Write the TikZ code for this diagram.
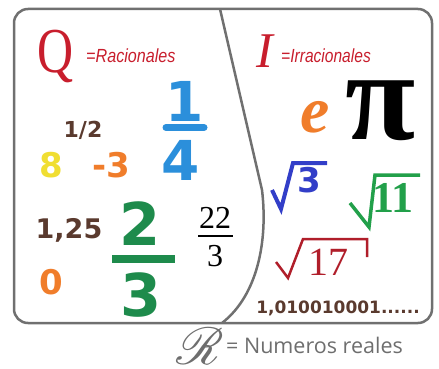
\documentclass[tikz,border=0pt]{standalone}
\usepackage{fontspec}
\setmainfont{Liberation Serif}
\newfontfamily\numfont{DejaVu Sans}
\newfontfamily\narrowfont{Liberation Sans}
\newfontfamily\handfont{Open Sans}
\usepackage{mathrsfs}
\usetikzlibrary{positioning}
\definecolor{frame}{RGB}{112,112,112}
\definecolor{setred}{RGB}{200,30,45}
\definecolor{brownnum}{RGB}{90,58,46}
\definecolor{bluenum}{RGB}{43,143,219}
\definecolor{yellownum}{RGB}{240,222,50}
\definecolor{orangenum}{RGB}{240,125,43}
\definecolor{greennum}{RGB}{30,139,76}
\definecolor{rootblue}{RGB}{50,62,200}
\definecolor{rootgreen}{RGB}{34,160,74}
\definecolor{rootred}{RGB}{176,30,42}
\definecolor{realgray}{RGB}{110,110,110}
\newcommand{\fs}[1]{\fontsize{#1}{#1}\selectfont}

\begin{document}
\begin{tikzpicture}[x=1pt, y=-1pt,
      num/.style={inner sep=0pt, font=\numfont\bfseries\fs{#1}},
      ser/.style={inner sep=0pt, font=\fs{#1}},
      setname/.style={inner sep=0pt, anchor=base west, text=setred,
                      font=\narrowfont\itshape\fs{19}},
      bar/.style={line width=#1, line cap=round},
      rootline/.style={line width=#1, line join=miter}
    ]
    \useasboundingbox (0,0) rectangle (439,369);
    % frame and divider
    \draw[frame, line width=2.5pt, rounded corners=14pt] (14,9) rectangle (432,323);
    \draw[frame, line width=2.5pt] (220,9) -- (262,190)
        .. controls (268,240) and (258,295) .. (222,323);
    % rationals
    \node[ser=64, anchor=base, text=setred] (q) at (56,73) {\scalebox{0.78}[1]{Q}};
    \node[setname] (qtxt) at (86,63) {\scalebox{0.85}[1]{=Racionales}};
    \node[num=22, text=brownnum] (half) at (83,130) {1/2};
    \node[num=55, text=bluenum] (one) at (185,101) {1};
    \draw[bluenum, bar=7pt] (166,127.5) -- (204,127.5);
    \node[num=55, text=bluenum] (four) at (181,160) {4};
    \node[num=34, text=yellownum] (eight) at (51,165) {8};
    \node[num=34, text=orangenum] (minus) at (111,165) {-3};
    \node[num=27, text=brownnum] (dec) at (69,230) {1,25};
    \node[num=34, text=orangenum] (zero) at (51,282) {0};
    \node[num=59, text=greennum] (two) at (140,224) {2};
    \draw[greennum, line width=8pt] (112,259) -- (175,259);
    \node[num=59, text=greennum] (three) at (141,295) {3};
    \node[ser=32] (tt) at (215,218) {22};
    \draw[line width=1.2pt] (198,236) -- (233,236);
    \node[ser=32] (thr) at (215,256) {3};
    % irrationals
    \node[ser=50, anchor=base west, text=setred] (i) at (256,67) {\itshape I};
    \node[setname] (itxt) at (281,63) {\scalebox{0.82}[1]{=Irracionales}};
    \node[ser=66, text=orangenum] (e) at (315,117) {\bfseries\itshape e};
    \node[ser=128, text=black, text height=56pt, text depth=2pt] (pi)
        at (381,112) {\bfseries π};
    \draw[rootblue, rootline=4pt] (272,190) -- (281,209) -- (293,163) -- (327,163);
    \node[num=34, text=rootblue] (r3) at (309,180) {3};
    \draw[rootgreen, rootline=3.5pt] (350,203) -- (369,227) -- (375,175) -- (420,175);
    \node[ser=44, text=rootgreen] (r11) at (393,198) {\bfseries 11};
    \draw[rootred, rootline=2.5pt] (276,262) -- (288,278) -- (303,239) -- (367,239) -- (367,257);
    \node[ser=40, text=rootred] (r17) at (328,262) {17};
    \node[num=17, text=brownnum] (rep) at (338,308) {1,010010001......};
    % reals
    \node[inner sep=0pt, text=realgray, font=\fs{10}] (r) at (200,346)
        {\scalebox{5.2}{$\mathscr{R}$}};
    \node[inner sep=0pt, anchor=west, text=realgray, font=\handfont\fs{21.5}] (rtxt)
        at (226,345) {= Numeros reales};
  \end{tikzpicture}
\end{document}
